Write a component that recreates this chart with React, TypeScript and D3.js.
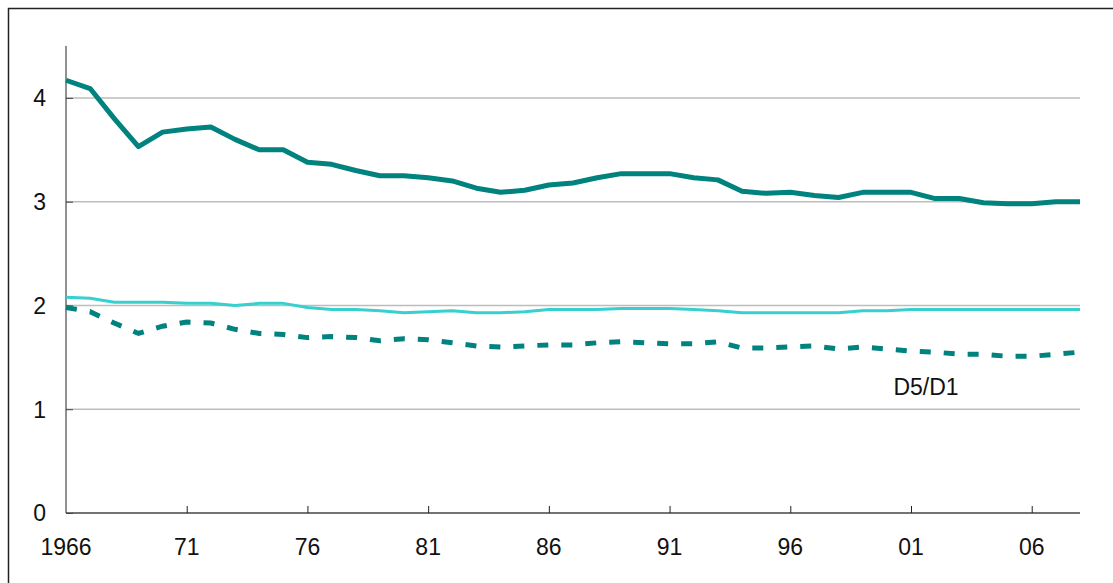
import React, { useEffect, useRef } from "react"
import * as d3 from "d3"

const years = d3.range(1966, 2009)

const topRatio = [
  4.17, 4.09, 3.8, 3.53, 3.67, 3.7, 3.72, 3.6, 3.5, 3.5,
  3.38, 3.36, 3.3, 3.25, 3.25, 3.23, 3.2, 3.13, 3.09, 3.11,
  3.16, 3.18, 3.23, 3.27, 3.27, 3.27, 3.23, 3.21, 3.1, 3.08,
  3.09, 3.06, 3.04, 3.09, 3.09, 3.09, 3.03, 3.03, 2.99, 2.98,
  2.98, 3.0, 3.0
]

const midRatio = [
  2.08, 2.07, 2.03, 2.03, 2.03, 2.02, 2.02, 2.0, 2.02, 2.02,
  1.98, 1.96, 1.96, 1.95, 1.93, 1.94, 1.95, 1.93, 1.93, 1.94,
  1.96, 1.96, 1.96, 1.97, 1.97, 1.97, 1.96, 1.95, 1.93, 1.93,
  1.93, 1.93, 1.93, 1.95, 1.95, 1.96, 1.96, 1.96, 1.96, 1.96,
  1.96, 1.96, 1.96
]

const d5d1 = [
  1.98, 1.94, 1.83, 1.73, 1.8, 1.84, 1.83, 1.77, 1.73, 1.72,
  1.69, 1.7, 1.69, 1.66, 1.68, 1.67, 1.64, 1.61, 1.6, 1.61,
  1.62, 1.62, 1.64, 1.65, 1.64, 1.63, 1.63, 1.65, 1.59, 1.59,
  1.6, 1.61, 1.58, 1.6, 1.58, 1.56, 1.55, 1.53, 1.53, 1.51,
  1.51, 1.53, 1.55
]

const yTicks = [0, 1, 2, 3, 4]
const xTicks = [1966, 1971, 1976, 1981, 1986, 1991, 1996, 2001, 2006]
const xTickLabels = ["1966", "71", "76", "81", "86", "91", "96", "01", "06"]

const dark = "#00827e"
const light = "#38cfcf"

const App = () => {
  const ref = useRef<SVGSVGElement>(null)

  useEffect(() => {
    const svg = d3.select(ref.current)
    svg.selectAll("*").remove()

    const x = d3.scaleLinear().domain([1966, 2008]).range([66, 1080])
    const y = d3.scaleLinear().domain([0, 4.5]).range([513, 46])

    // outer frame
    svg.append("rect")
      .attr("x", 8.5).attr("y", 8.5)
      .attr("width", 1300).attr("height", 700)
      .attr("fill", "none").attr("stroke", "#222").attr("stroke-width", 1.5)

    // grid
    svg.append("g")
      .selectAll("line")
      .data(yTicks.filter(d => d > 0))
      .join("line")
      .attr("x1", x(1966)).attr("x2", x(2008))
      .attr("y1", d => y(d)).attr("y2", d => y(d))
      .attr("stroke", "#bdbdbd").attr("stroke-width", 1.5)

    const font = "'Liberation Sans', Arial, sans-serif"

    // y axis
    const yAxis = svg.append("g")
      .attr("transform", `translate(${x(1966)},0)`)
      .call(d3.axisRight(y).tickValues(yTicks).tickSize(7).tickFormat(() => ""))
    yAxis.select(".domain").attr("stroke", "#222").attr("d", `M0,${y(4.5)}V${y(0)}`)
    yAxis.selectAll(".tick line").attr("stroke", "#444")

    svg.append("g")
      .selectAll("text")
      .data(yTicks)
      .join("text")
      .attr("x", 46).attr("y", d => y(d))
      .attr("dy", "0.36em")
      .attr("text-anchor", "end")
      .attr("font-family", font).attr("font-size", 23).attr("fill", "#111")
      .text(d => d)

    // x axis
    const xAxis = svg.append("g")
      .attr("transform", `translate(0,${y(0)})`)
      .call(d3.axisTop(x).tickValues(xTicks).tickSize(7).tickFormat(() => ""))
    xAxis.select(".domain").attr("stroke", "#444").attr("stroke-width", 1.5)
      .attr("d", `M${x(1966)},0H${x(2008)}`)
    xAxis.selectAll(".tick line").attr("stroke", "#222")
    xAxis.selectAll(".tick").filter((d: any) => d === 1966).remove()

    svg.append("g")
      .selectAll("text")
      .data(xTicks)
      .join("text")
      .attr("x", d => x(d)).attr("y", 555)
      .attr("text-anchor", "middle")
      .attr("font-family", font).attr("font-size", 23).attr("fill", "#111")
      .text((d, i) => xTickLabels[i])

    const line = (vals: number[]) =>
      d3.line<number>().x((d, i) => x(years[i])).y(d => y(d))(vals)

    svg.append("path")
      .attr("d", line(d5d1))
      .attr("fill", "none").attr("stroke", dark)
      .attr("stroke-width", 5).attr("stroke-dasharray", "11 13")

    svg.append("path")
      .attr("d", line(midRatio))
      .attr("fill", "none").attr("stroke", light)
      .attr("stroke-width", 3).attr("stroke-linejoin", "round")

    svg.append("path")
      .attr("d", line(topRatio))
      .attr("fill", "none").attr("stroke", dark)
      .attr("stroke-width", 5).attr("stroke-linejoin", "round")

    svg.append("text")
      .attr("x", 926).attr("y", 395)
      .attr("text-anchor", "middle")
      .attr("font-family", font).attr("font-size", 23).attr("fill", "#111")
      .text("D5/D1")
  }, [])

  return (
    <svg
      ref={ref}
      width={1113}
      height={583}
      style={{ position: "absolute", left: 0, top: 0, background: "#fff" }}
    />
  )
}

export default App
